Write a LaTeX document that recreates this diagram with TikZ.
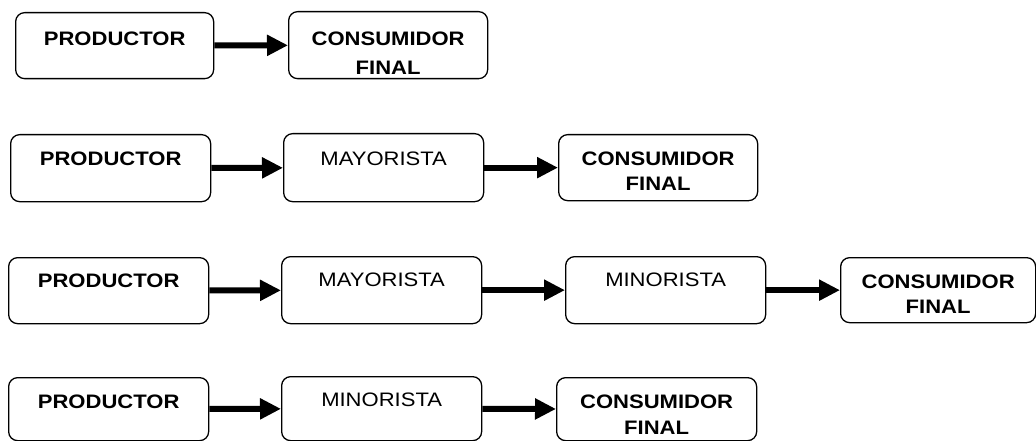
\documentclass[tikz,border=0pt]{standalone}
\usepackage{fontspec}
\setmainfont{Liberation Sans}[FakeStretch=1.13]
\usetikzlibrary{arrows.meta}
\newcommand\bt[5]{\parbox[c][#1pt][t]{#2pt}{\centering\fontsize{19.5}{#4}\selectfont\vspace*{#3pt}#5}}
\tikzset{
  bx/.style={draw, line width=1.3pt, rounded corners=9pt, inner sep=0pt, anchor=north west},
  arr/.style={line width=6pt, -{Triangle[length=21pt,width=20pt]}}
}
\begin{document}
\begin{tikzpicture}[x=1pt,y=-1pt]
\useasboundingbox (0,0) rectangle (1036,441);
% row 1
\node[bx] (p1) at (15,12) {\bt{66}{198}{19.5}{29}{\bfseries PRODUCTOR}};
\node[bx] (c1) at (288,11) {\bt{67}{199}{20}{29}{\bfseries CONSUMIDOR\\FINAL}};
\draw[arr] (p1) -- (c1);
% row 2
\node[bx] (p2) at (10,134) {\bt{67}{200}{17.5}{25}{\bfseries PRODUCTOR}};
\node[bx] (m2) at (283,133) {\bt{68}{200}{18.5}{25}{MAYORISTA}};
\node[bx] (c2) at (558,134) {\bt{66}{199}{17.2}{25}{\bfseries CONSUMIDOR\\FINAL}};
\draw[arr] (p2) -- (m2);
\draw[arr] (m2) -- (c2);
% row 3
\node[bx] (p3) at (8,257) {\bt{66}{200}{16.5}{25}{\bfseries PRODUCTOR}};
\node[bx] (m3) at (281,256) {\bt{67}{200}{16.5}{25}{MAYORISTA}};
\node[bx] (n3) at (565,256) {\bt{67}{200}{16.5}{25}{MINORISTA}};
\node[bx] (c3) at (840,257) {\bt{65}{195}{17.5}{25}{\bfseries CONSUMIDOR\\FINAL}};
\draw[arr] (p3) -- (m3);
\draw[arr] (m3) -- (n3);
\draw[arr] (n3) -- (c3);
% row 4
\node[bx] (p4) at (8,377) {\bt{63}{200}{17.5}{26}{\bfseries PRODUCTOR}};
\node[bx] (n4) at (281,376) {\bt{64}{200}{16.5}{26}{MINORISTA}};
\node[bx] (c4) at (556,377) {\bt{63}{200}{17.5}{26}{\bfseries CONSUMIDOR\\FINAL}};
\draw[arr] (p4) -- (n4);
\draw[arr] (n4) -- (c4);
\end{tikzpicture}
\end{document}
